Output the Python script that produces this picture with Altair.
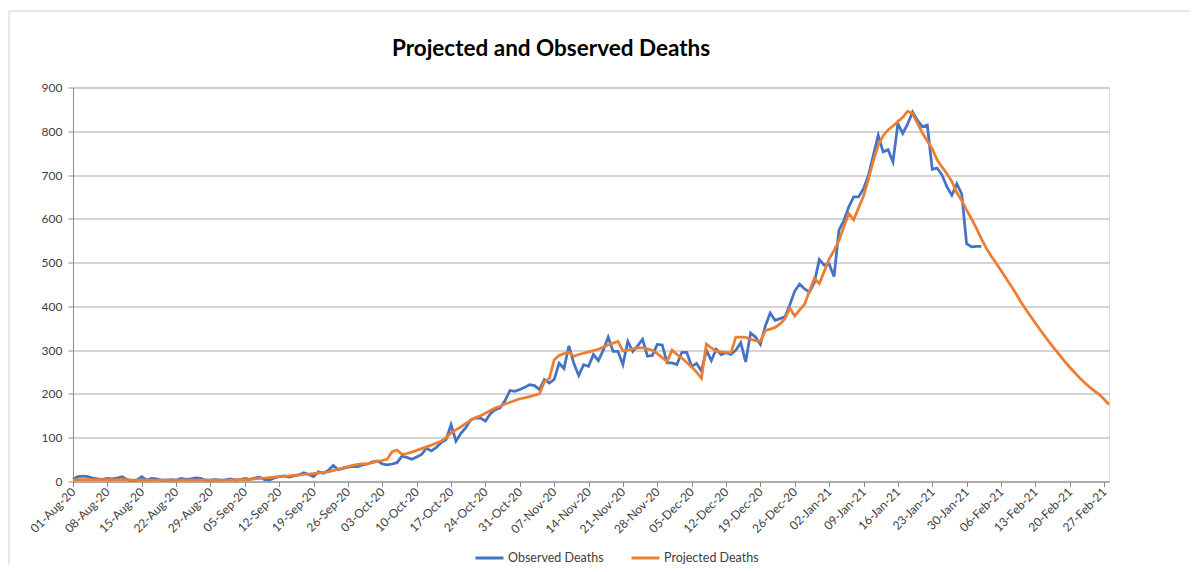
import altair as alt
import pandas as pd

start_date = "2020-08-01"
chart_title = "Projected and Observed Deaths"

# Observed deaths, daily from 01-Aug-20
observed = [
    # Aug
    5, 11, 12, 11, 8, 6, 5, 7, 6, 8, 11, 4, 2, 3, 11, 3, 7, 6, 3, 3, 4, 3, 7, 5, 6, 8, 7, 3, 3, 4, 3,
    # Sep
    4, 6, 3, 4, 7, 5, 8, 10, 4, 3, 8, 11, 13, 10, 13, 15, 20, 16, 11, 22, 19, 25, 37, 27, 30, 33, 34, 34, 38, 40,
    # Oct
    45, 47, 40, 38, 40, 43, 58, 55, 51, 56, 62, 76, 70, 78, 89, 96, 130, 92, 110, 123, 141, 145, 145, 138, 155,
    164, 168, 185, 208, 206, 210,
    # Nov
    215, 221, 219, 210, 233, 225, 233, 270, 258, 310, 270, 242, 267, 263, 290, 276, 300, 330, 297, 297, 267,
    320, 297, 310, 325, 286, 288, 313, 312, 271,
    # Dec
    271, 267, 295, 295, 263, 270, 252, 300, 276, 302, 290, 294, 290, 300, 317, 273, 339, 330, 313, 355, 385,
    368, 372, 376, 404, 435, 451, 440, 433, 455, 507,
    # Jan
    494, 497, 468, 574, 596, 627, 650, 650, 669, 699, 745, 791, 753, 758, 730, 817, 795, 817, 844, 825, 810,
    814, 713, 716, 700, 673, 654, 680, 657, 543, 536,
    # Feb
    537, 537,
]

# Projected deaths, daily from 01-Aug-20
projected = [
    # Aug
    3, 4, 4, 4, 4, 4, 4, 4, 4, 4, 4, 4, 3, 3, 3, 3, 3, 3, 3, 3, 3, 3, 3, 3, 3, 3, 3, 3, 3, 3, 3,
    # Sep
    3, 3, 4, 4, 4, 5, 6, 7, 8, 9, 10, 11, 12, 13, 14, 15, 16, 17, 18, 19, 21, 22, 25, 28, 31, 34, 37, 39, 40, 41,
    # Oct
    43, 46, 48, 51, 68, 72, 62, 64, 67, 71, 75, 79, 83, 88, 92, 100, 111, 118, 125, 133, 140, 146, 150, 156,
    162, 168, 172, 177, 181, 185, 189,
    # Nov
    191, 194, 197, 200, 228, 235, 278, 288, 292, 295, 286, 290, 293, 296, 299, 302, 307, 312, 316, 320, 298,
    300, 303, 305, 305, 303, 300, 292, 283, 274,
    # Dec
    300, 290, 282, 272, 262, 250, 236, 314, 305, 298, 296, 295, 294, 330, 330, 329, 325, 322, 320, 345, 348,
    352, 360, 372, 396, 378, 392, 405, 435, 464, 452,
    # Jan
    480, 508, 528, 550, 582, 612, 598, 625, 652, 690, 732, 768, 790, 803, 812, 822, 832, 846, 840, 818, 796,
    778, 760, 735, 718, 703, 685, 660, 642, 620, 600,
    # Feb
    578, 555, 533, 515, 499, 482, 465, 448, 430, 411, 394, 378, 362, 346, 331, 316, 302, 288, 274, 261, 249,
    237, 226, 216, 207, 199, 188, 176,
]

series_names = ["Observed Deaths", "Projected Deaths"]
series_colors = ["#4472C4", "#ED7D31"]

x_ticks = [
    "2020-08-01", "2020-08-08", "2020-08-15", "2020-08-22", "2020-08-29",
    "2020-09-05", "2020-09-12", "2020-09-19", "2020-09-26",
    "2020-10-03", "2020-10-10", "2020-10-17", "2020-10-24", "2020-10-31",
    "2020-11-07", "2020-11-14", "2020-11-21", "2020-11-28",
    "2020-12-05", "2020-12-12", "2020-12-19", "2020-12-26",
    "2021-01-02", "2021-01-09", "2021-01-16", "2021-01-23", "2021-01-30",
    "2021-02-06", "2021-02-13", "2021-02-20", "2021-02-27",
]
x_end = "2021-02-28"
y_ticks = [0, 100, 200, 300, 400, 500, 600, 700, 800, 900]


def to_dt(s):
    return alt.DateTime(year=int(s[:4]), month=int(s[5:7]), date=int(s[8:10]))


obs_df = pd.DataFrame({
    "date": pd.date_range(start_date, periods=len(observed), freq="D"),
    "deaths": observed,
    "series": series_names[0],
})
proj_df = pd.DataFrame({
    "date": pd.date_range(start_date, periods=len(projected), freq="D"),
    "deaths": projected,
    "series": series_names[1],
})

FONT = "Lato"
TXT = "#404040"
AX = "#8C8C8C"

x_enc = alt.X(
    "date:T",
    title=None,
    scale=alt.Scale(domain=[to_dt(start_date), to_dt(x_end)], nice=False),
    axis=alt.Axis(
        values=[to_dt(s) for s in x_ticks],
        format="%d-%b-%y",
        labelAngle=-45,
        labelAlign="right",
        labelBaseline="middle",
        labelPadding=3,
        tickSize=5,
        tickColor=AX,
        domainColor=AX,
        grid=False,
        labelFont=FONT,
        labelFontSize=12,
        labelColor=TXT,
        labelOverlap=False,
    ),
)
y_enc = alt.Y(
    "deaths:Q",
    title=None,
    scale=alt.Scale(domain=[0, 900], nice=False),
    axis=alt.Axis(
        values=y_ticks,
        grid=True,
        gridColor="#ABABAB",
        gridWidth=1,
        domainColor=AX,
        tickColor=AX,
        tickSize=5,
        labelPadding=6,
        labelFont=FONT,
        labelFontSize=12,
        labelColor=TXT,
    ),
)
color_enc = alt.Color(
    "series:N",
    scale=alt.Scale(domain=series_names, range=series_colors),
    legend=alt.Legend(
        orient="none",
        legendX=401,
        legendY=455,
        direction="horizontal",
        title=None,
        symbolType="stroke",
        symbolSize=784,
        symbolStrokeWidth=3,
        labelFont=FONT,
        labelFontSize=12.5,
        labelColor=TXT,
        columnPadding=21,
        labelOffset=3,
    ),
)

obs_line = alt.Chart(obs_df).mark_line(strokeWidth=2.75).encode(x=x_enc, y=y_enc, color=color_enc)
proj_line = alt.Chart(proj_df).mark_line(strokeWidth=2.75).encode(x=x_enc, y=y_enc, color=color_enc)

one_row = pd.DataFrame({"k": [0]})

frame = alt.Chart(one_row).mark_rect(
    fillOpacity=0, stroke="#D0D0D0", strokeWidth=1
).encode(
    x=alt.value(-64), x2=alt.value(1300), y=alt.value(-76.5), y2=alt.value(700)
)

title_text = alt.Chart(one_row).mark_text(
    text=chart_title,
    font=FONT,
    fontSize=22.5,
    fontWeight="bold",
    color="#000000",
    align="center",
    baseline="alphabetic",
).encode(x=alt.value(478), y=alt.value(-32))

chart = alt.layer(frame, title_text, obs_line, proj_line).properties(
    width=1036,
    height=394,
    autosize=alt.AutoSizeParams(type="none"),
    padding={"left": 65, "top": 79.5, "right": 81, "bottom": 82},
).configure_view(stroke=None).configure(background="white")

chart.save("out.html", embed_options={"renderer": "svg", "actions": False})
